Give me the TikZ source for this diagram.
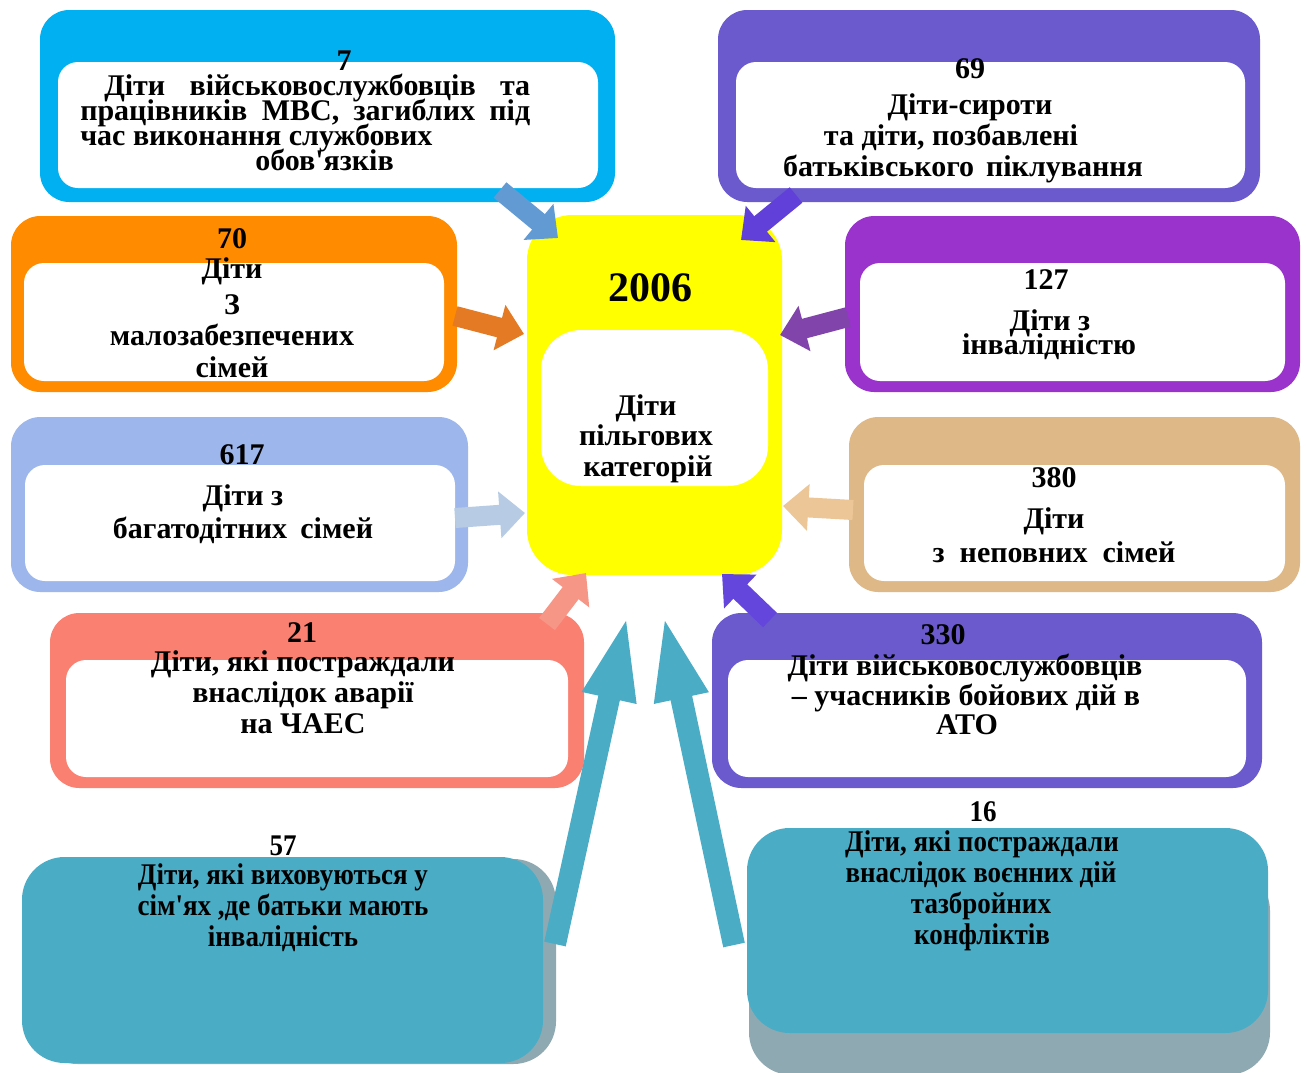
\documentclass[tikz,border=0pt]{standalone}
\usepackage{fontspec}
\setmainfont{Liberation Serif}[Ligatures=TeXOff]
\newfontfamily\condfont[FakeStretch=0.9,Ligatures=TeXOff]{Liberation Serif}
\usetikzlibrary{arrows.meta,fit}
\definecolor{cBlue}{RGB}{0,176,240}
\definecolor{cSlate}{RGB}{106,90,205}
\definecolor{cOrange}{RGB}{255,140,0}
\definecolor{cLight}{RGB}{157,183,236}
\definecolor{cViolet}{RGB}{153,51,204}
\definecolor{cTan}{RGB}{222,184,135}
\definecolor{cSalmon}{RGB}{250,128,114}
\definecolor{cTeal}{RGB}{74,172,197}
\definecolor{cShadow}{RGB}{143,169,178}
\definecolor{cYellow}{RGB}{255,255,0}
\definecolor{aBlue}{RGB}{98,155,212}
\definecolor{aSlate}{RGB}{96,64,216}
\definecolor{aOrange}{RGB}{228,122,36}
\definecolor{aLight}{RGB}{183,204,228}
\definecolor{aViolet}{RGB}{128,68,170}
\definecolor{aTan}{RGB}{236,198,150}
\definecolor{aSalmon}{RGB}{246,150,135}
\definecolor{aSlate2}{RGB}{100,70,220}
\begin{document}
\begin{tikzpicture}[x=0.75pt,y=-0.75pt,
  outerbox/.style={inner sep=0pt, rounded corners=22pt, draw=none},
  innerbox/.style={inner sep=0pt, rounded corners=15pt, fill=white, draw=none},
  tealbox/.style={inner sep=0pt, rounded corners=32pt, draw=none},
  lbl/.style={anchor=base, inner sep=0pt, font=\bfseries\fontsize{22.5}{25}\selectfont},
  lblw/.style={lbl, anchor=base west},
  clbl/.style={anchor=base, inner sep=0pt, font=\condfont\bfseries\fontsize{22.5}{25}\selectfont},
  arr/.style={line width=15pt, -{Triangle[length=19pt,width=34pt]}},
  bigarr/.style={line width=16.5pt, -{Triangle[length=66pt,width=36pt]}},
]
\useasboundingbox (0,0) rectangle (1306,1072);
\clip (0,0) rectangle (1306,1072);
\fill[white] (0,0) rectangle (1306,1072);

% ---- boxes ----
\node[outerbox, fill=cBlue, fit={(40,10)(615,202)}] (b1) {};
\node[innerbox, fit={(58,62)(598,188)}] (b1i) {};
\node[outerbox, fill=cSlate, fit={(718,10)(1260,202)}] (b2) {};
\node[innerbox, fit={(736,62)(1245,188)}] (b2i) {};
\node[outerbox, fill=cOrange, fit={(11,216)(457,392)}] (b3) {};
\node[innerbox, fit={(24,263)(444,381)}] (b3i) {};
\node[outerbox, fill=cLight, fit={(11,417)(468,592)}] (b4) {};
\node[innerbox, fit={(25,465)(455,581)}] (b4i) {};
\node[outerbox, fill=cViolet, fit={(845,216)(1300,392)}] (b5) {};
\node[innerbox, fit={(860,263)(1285,381)}] (b5i) {};
\node[outerbox, fill=cTan, fit={(849,417)(1300,592)}] (b6) {};
\node[innerbox, fit={(864,465)(1285,581)}] (b6i) {};
\node[outerbox, fill=cSalmon, fit={(50,613)(584,788)}] (b7) {};
\node[innerbox, fit={(66,660)(568,777)}] (b7i) {};
\node[outerbox, fill=cSlate, fit={(712,613)(1262,788)}] (b8) {};
\node[innerbox, fit={(728,660)(1246,777)}] (b8i) {};
\node[tealbox, fill=cShadow, fit={(35,859)(556,1064)}] (b9s) {};
\node[tealbox, fill=cTeal, fit={(22,857)(543,1063)}] (b9) {};
\node[tealbox, fill=cShadow, fit={(749,868)(1270,1075)}] (b10s) {};
\node[tealbox, fill=cTeal, fit={(747,828)(1268,1033)}] (b10) {};
\node[inner sep=0pt, rounded corners=34pt, fill=cYellow, fit={(527,215)(782,575)}] (c) {};
\node[inner sep=0pt, rounded corners=30pt, fill=white, fit={(541,330)(768,486)}] (ci) {};

% ---- texts ----
\node[lbl] (t1n) at (344,70) {7};
\node[lblw] (t1a) at (104,95) {\makebox[319.5pt]{Діти\hfill військовослужбовців\hfill та}};
\node[lblw] (t1b) at (80,120) {\makebox[337.5pt]{працівників\hfill МВС,\hfill загиблих\hfill під}};
\node[lblw] (t1c) at (80,145) {час виконання службових};
\node[lblw] (t1d) at (255,170) {обов'язків};

\node[lbl] (t2n) at (970,78) {69};
\node[lbl] (t2a) at (970,114) {Діти-сироти};
\node[lbl] (t2b) at (951,145) {та діти, позбавлені};
\node[lbl] (t2c) at (963,176) {батьківського\hspace{9pt}піклування};

\node[lbl] (t3n) at (232,248) {70};
\node[lbl] (t3a) at (232,278) {Діти};
\node[lbl] (t3b) at (232,314) {З};
\node[lbl] (t3c) at (232,345) {малозабезпечених};
\node[lbl] (t3d) at (232,377) {сімей};

\node[lbl] (t4n) at (242,464) {617};
\node[lbl] (t4a) at (243,505) {Діти з};
\node[lbl] (t4b) at (243,538) {багатодітних\hspace{10pt}сімей};

\node[lbl] (t5n) at (1046,289) {127};
\node[lbl] (t5a) at (1050,330) {Діти з};
\node[lbl] (t5b) at (1049,354) {інвалідністю};

\node[lbl] (t6n) at (1054,487) {380};
\node[lbl] (t6a) at (1054,528) {Діти};
\node[lbl] (t6b) at (1054,562) {з~~неповних~~сімей};

\node[lbl] (t7n) at (302,642) {21};
\node[lbl] (t7a) at (303,671) {Діти, які постраждали};
\node[lbl] (t7b) at (303,702) {внаслідок аварії};
\node[lbl] (t7c) at (303,733) {на ЧАЕС};

\node[lbl] (t8n) at (943,644) {330};
\node[lbl] (t8a) at (965,675) {Діти військовослужбовців};
\node[lbl] (t8b) at (966,705) {– учасників бойових дій в};
\node[lbl] (t8c) at (967,734) {АТО};

\node[anchor=base, inner sep=0pt, font=\bfseries\fontsize{31.5}{34}\selectfont] (cn) at (650,301) {2006};
\node[lbl] (ca) at (646,415) {Діти};
\node[lbl] (cb) at (646,445) {пільгових};
\node[lbl] (cc) at (648,476) {категорій};

\node[clbl] (t9n) at (283,855) {57};
\node[clbl] (t9a) at (283,884) {Діти, які виховуються у};
\node[clbl] (t9b) at (283,915) {сім'ях ,де батьки мають};
\node[clbl] (t9c) at (283,946) {інвалідність};

\node[clbl] (t10n) at (983,821) {16};
\node[clbl] (t10a) at (982,851) {Діти, які постраждали};
\node[clbl] (t10b) at (981,882) {внаслідок воєнних дій};
\node[clbl] (t10c) at (981,913) {тазбройних};
\node[clbl] (t10d) at (982,944) {конфліктів};

% ---- arrow end points ----
\coordinate (a1s) at (500,190);  \coordinate (a1e) at (558,238);
\coordinate (a2s) at (796,195);  \coordinate (a2e) at (741,240);
\coordinate (a3s) at (455,316);  \coordinate (a3e) at (524,334);
\coordinate (a4s) at (455,518);  \coordinate (a4e) at (525,513);
\coordinate (a5s) at (848,317);  \coordinate (a5e) at (780,335);
\coordinate (a6s) at (853,510);  \coordinate (a6e) at (783,506);
\coordinate (a7s) at (547,624);  \coordinate (a7e) at (586,573);
\coordinate (a8s) at (770,620);  \coordinate (a8e) at (722,574);
\coordinate (t1s) at (555,944);  \coordinate (t1e) at (628,612);
\coordinate (t2s) at (734,945);  \coordinate (t2e) at (663,612);

\draw[arr, aBlue] (a1s) -- (a1e);
\draw[arr, aSlate] (a2s) -- (a2e);
\draw[arr, aOrange] (a3s) -- (a3e);
\draw[arr, aLight] (a4s) -- (a4e);
\draw[arr, aViolet] (a5s) -- (a5e);
\draw[arr, aTan] (a6s) -- (a6e);
\draw[arr, aSalmon] (a7s) -- (a7e);
\draw[arr, aSlate2] (a8s) -- (a8e);
\draw[bigarr, cTeal] (t1s) -- (t1e);
\draw[bigarr, cTeal] (t2s) -- (t2e);
\end{tikzpicture}
\end{document}
